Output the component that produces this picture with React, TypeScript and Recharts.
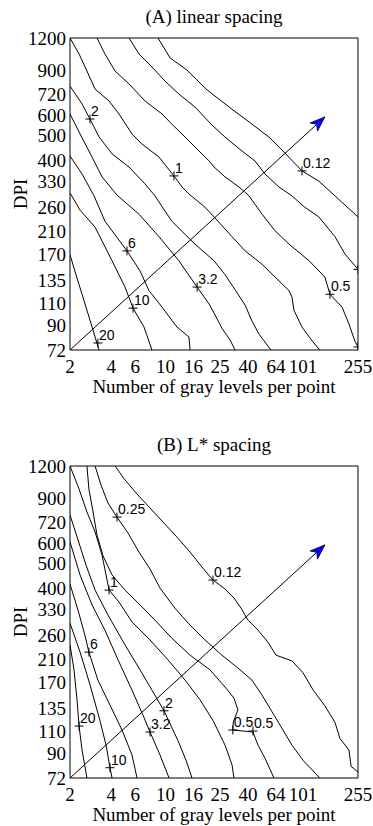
import React from "react";
import { ComposedChart, Scatter, XAxis, YAxis } from "recharts";

const grayTicks = [2, 4, 6, 10, 16, 25, 40, 64, 101, 255];
const dpiTicks = [72, 90, 110, 135, 170, 210, 260, 330, 400, 500, 600, 720, 900, 1200];
const grayDomain: [number, number] = [2, 255];
const dpiDomain: [number, number] = [72, 1200];

// (A) linear spacing — contour lines as [gray levels, dpi]
const linear20 = [[2, 170], [2.21, 142], [2.45, 119], [2.9, 88.6], [3.26, 72]];
const linear10 = [[2, 297], [2.37, 254], [3.05, 218], [4.06, 161], [5.05, 127], [5.78, 105], [6.95, 88.6], [7.95, 72]];
const linear6 = [[2, 414], [2.45, 352], [3.0, 289], [3.6, 230], [5.22, 176], [6.5, 147], [7.56, 123], [9.41, 106], [12.1, 88.6], [14.8, 81], [15.1, 72]];
const linear3_2 = [[2, 605], [2.37, 505], [2.9, 410], [3.43, 343], [4.41, 291], [6.39, 245], [8.95, 200], [12.5, 161], [17, 127], [20.8, 109], [23, 98.7], [25.8, 87.6], [29.6, 78.8], [32.2, 72]];
const linear2 = [[2, 778], [2.45, 662], [2.8, 578], [3.26, 492], [4.06, 422], [5.4, 375], [7.07, 322], [8.36, 289], [11.1, 230], [16.4, 187], [22.6, 161], [27.2, 142], [32.2, 124], [38.1, 108], [42.8, 93.5], [48.2, 83], [58.9, 72]];
const linear1 = [[2, 1200], [2.33, 1039], [2.66, 891], [3.05, 757], [3.86, 680], [4.56, 605], [5.68, 505], [6.72, 461], [8.95, 410], [11.5, 346], [13.2, 313], [14.8, 294], [19.4, 261], [22.6, 239], [30.6, 200], [38.1, 176], [50.7, 156], [63.1, 139], [79.8, 123], [83.9, 116], [86.8, 103], [99.3, 88.6], [118, 78.1], [134, 72]];
const linear05 = [[3.15, 1200], [3.6, 1039], [4.27, 891], [5.4, 793], [7.07, 680], [9.41, 605], [11.1, 552], [13.9, 491], [16.4, 449], [20.8, 396], [22.6, 375], [27.2, 343], [34.4, 313], [40.7, 289], [50.7, 245], [63.1, 211], [79.8, 187], [112, 161], [146, 139], [159, 119], [195, 106], [219, 91], [242, 78], [255, 74]];
const linear025 = [[5.4, 1200], [6.39, 1039], [7.95, 924], [9.9, 814], [12.5, 724], [16.4, 644], [21.8, 548], [27.2, 491], [36.2, 433], [45, 396], [53.3, 352], [67.4, 313], [83.9, 289], [104, 261], [132, 239], [173, 200], [205, 171], [255, 149]];
const linear012 = [[8.8, 1200], [10.8, 1002], [14.3, 899], [20.1, 751], [31.1, 627], [42.8, 552], [57, 491], [73.4, 429], [99.3, 362], [132, 330], [173, 289], [255, 239]];

const linearMarks = [
  { x: 3.2, y: 76.7, label: "20" },
  { x: 5.78, y: 105, label: "10" },
  { x: 5.22, y: 176, label: "6" },
  { x: 17, y: 127, label: "3.2" },
  { x: 2.8, y: 578, label: "2" },
  { x: 11.5, y: 346, label: "1" },
  { x: 159, y: 119, label: "0.5" },
  { x: 99.3, y: 362, label: "0.12" },
  { x: 255, y: 149, label: "" },
  { x: 255, y: 74, label: "" },
];

// (B) L* spacing
const lstar20 = [[2, 239], [2.14, 191], [2.25, 146], [2.33, 115], [2.45, 92.6], [2.66, 72]];
const lstar10 = [[2, 291], [2.37, 224], [2.8, 167], [3.31, 121], [3.67, 96.8], [3.92, 79], [4.06, 72]];
const lstar6 = [[2, 414], [2.29, 327], [2.57, 261], [2.75, 224], [3.2, 174], [3.92, 139], [4.8, 111], [5.68, 88.6], [6.18, 72]];
const lstar3_2 = [[2, 605], [2.37, 449], [2.9, 343], [3.6, 273], [4.49, 209], [5.68, 159], [6.83, 127], [7.69, 109], [9.1, 88.6], [10.6, 72]];
const lstar2 = [[2, 771], [2.29, 616], [2.62, 491], [3.05, 392], [3.79, 313], [5.05, 239], [6.5, 191], [7.95, 159], [9.73, 132], [12.3, 101], [14.1, 84.5], [15.6, 72]];
const lstar1 = [[2, 1200], [2.33, 975], [2.66, 793], [3.05, 662], [3.43, 538], [3.67, 449], [3.86, 392], [4.56, 352], [5.68, 294], [7.69, 250], [10.4, 209], [13.9, 174], [17.8, 146], [22.2, 121], [27.2, 96.8], [30.6, 81], [31.6, 72]];
const lstar05 = [[2.66, 1200], [2.75, 975], [2.95, 793], [3.15, 644], [3.49, 533], [4.06, 449], [5.05, 392], [6.5, 343], [8.36, 299], [11.1, 254], [15.1, 218], [21.1, 191], [27.6, 162], [31.6, 148], [33.8, 133], [31.2, 119], [31, 111], [43.5, 109], [47.4, 96.8], [53.3, 86], [62, 72]];
const lstar025 = [[3.05, 1200], [3.37, 1011], [3.79, 860], [4.41, 757], [5.31, 656], [6.39, 552], [7.69, 474], [9.1, 399], [11.7, 333], [14.8, 289], [19.4, 250], [25.8, 218], [33.8, 194], [42.8, 174], [50.7, 152], [59.9, 131], [72.1, 111], [83.9, 96.8], [101, 84.5], [134, 72]];
const lstar012 = [[4.27, 1200], [5.05, 1058], [6.18, 932], [7.69, 822], [9.57, 724], [12.1, 632], [15.1, 552], [18.4, 483], [22.2, 429], [26.7, 399], [31.6, 365], [35.6, 333], [40, 299], [47.4, 273], [56, 245], [64.1, 218], [83.9, 207], [101, 186], [120, 159], [146, 138], [173, 119], [188, 103], [219, 92.6], [227, 80], [255, 76]];

const lstarMarks = [
  { x: 4.41, y: 757, label: "0.25" },
  { x: 22.2, y: 429, label: "0.12" },
  { x: 3.86, y: 392, label: "1" },
  { x: 2.75, y: 224, label: "6" },
  { x: 9.73, y: 132, label: "2" },
  { x: 7.69, y: 109, label: "3.2" },
  { x: 2.33, y: 115, label: "20" },
  { x: 31, y: 111, label: "0.5" },
  { x: 43.5, y: 110, label: "0.5" },
  { x: 3.92, y: 79, label: "10" },
];

const arrowFrom = { x: 2, y: 72 };
const arrowTo = { x: 146, y: 589 };

const PLOT_W = 288;
const PLOT_H = 312;
// direction of the arrow on screen, from the log scales
const arrowAngle =
  (Math.atan2(
    -PLOT_H * Math.log(arrowTo.y / arrowFrom.y) / Math.log(dpiDomain[1] / dpiDomain[0]),
    PLOT_W * Math.log(arrowTo.x / arrowFrom.x) / Math.log(grayDomain[1] / grayDomain[0])
  ) * 180) / Math.PI;

const serif = "'Liberation Serif', 'Times New Roman', serif";
const sans = "'Liberation Sans', Arial, sans-serif";

const toPts = (a: number[][]) => a.map(([x, y]) => ({ x, y }));

function Plus(props: any) {
  const { cx, cy, payload } = props;
  return (
    <g>
      <line x1={cx - 4.5} y1={cy} x2={cx + 4.5} y2={cy} stroke="#000" strokeWidth={1} />
      <line x1={cx} y1={cy - 4.5} x2={cx} y2={cy + 4.5} stroke="#000" strokeWidth={1} />
      {payload && payload.label ? (
        <text x={cx + 1} y={cy - 3} fontSize={14} fontFamily={sans} fill="#000">
          {payload.label}
        </text>
      ) : null}
    </g>
  );
}

function Head(props: any) {
  const { cx, cy, payload } = props;
  if (!payload || payload.x !== arrowTo.x) return <g />;
  return (
    <polygon
      points="0,0 -15,-5.5 -11,0 -15,5.5"
      transform={`translate(${cx},${cy}) rotate(${arrowAngle})`}
      fill="#0000ff"
      stroke="#00003a"
      strokeWidth={0.8}
    />
  );
}

const tickAxis = { stroke: "#000" };

function Panel({ title, top, curves, marks }: { title: string; top: number; curves: number[][][]; marks: { x: number; y: number; label: string }[] }) {
  return (
    <div style={{ position: "absolute", left: 0, top, width: 373, height: 398 }}>
      <div
        style={{
          position: "absolute",
          left: 70,
          top: 7,
          width: 288,
          textAlign: "center",
          fontFamily: serif,
          fontSize: 19,
          lineHeight: "19px",
          whiteSpace: "nowrap",
        }}
      >
        {title}
      </div>
      <ComposedChart width={373} height={398} margin={{ top: 38, right: 15, bottom: 0, left: 0 }}>
        <XAxis
          dataKey="x"
          type="number"
          scale="log"
          domain={grayDomain}
          allowDataOverflow
          ticks={grayTicks}
          interval={0}
          tickLine={false}
          axisLine={false}
          tickSize={0}
          tickMargin={10}
          height={48}
          tick={{ fontSize: 19, fill: "#000", fontFamily: serif }}
          label={{
            value: "Number of gray levels per point",
            position: "insideBottom",
            offset: 5,
            style: { fontSize: 19, fill: "#000", fontFamily: serif },
          }}
        />
        <YAxis
          dataKey="y"
          type="number"
          scale="log"
          domain={dpiDomain}
          allowDataOverflow
          ticks={dpiTicks}
          interval={0}
          tickLine={false}
          axisLine={false}
          tickSize={0}
          tickMargin={4}
          width={70}
          tick={{ fontSize: 19, fill: "#000", fontFamily: serif }}
          label={{
            value: "DPI",
            angle: -90,
            position: "insideLeft",
            offset: 20,
            style: { fontSize: 19, fill: "#000", fontFamily: serif, textAnchor: "middle" },
          }}
        />
        <XAxis xAxisId="b" orientation="bottom" mirror type="number" scale="log" domain={grayDomain} allowDataOverflow ticks={grayTicks} interval={0} tick={false} tickSize={5} tickLine={tickAxis} axisLine={tickAxis} height={1} />
        <XAxis xAxisId="t" orientation="top" mirror type="number" scale="log" domain={grayDomain} allowDataOverflow ticks={grayTicks} interval={0} tick={false} tickSize={5} tickLine={tickAxis} axisLine={tickAxis} height={1} />
        <YAxis yAxisId="l" orientation="left" mirror type="number" scale="log" domain={dpiDomain} allowDataOverflow ticks={dpiTicks} interval={0} tick={false} tickSize={5} tickLine={tickAxis} axisLine={tickAxis} width={1} />
        <YAxis yAxisId="r" orientation="right" mirror type="number" scale="log" domain={dpiDomain} allowDataOverflow ticks={dpiTicks} interval={0} tick={false} tickSize={5} tickLine={tickAxis} axisLine={tickAxis} width={1} />
        {curves.map((c, i) => (
          <Scatter
            key={i}
            data={toPts(c)}
            line={{ stroke: "#000", strokeWidth: 1 }}
            lineType="joint"
            fill="none"
            shape={() => <g />}
            isAnimationActive={false}
          />
        ))}
        <Scatter
          data={[arrowFrom, arrowTo]}
          line={{ stroke: "#000", strokeWidth: 1 }}
          lineType="joint"
          fill="none"
          shape={Head}
          isAnimationActive={false}
        />
        <Scatter data={marks} fill="none" shape={Plus} isAnimationActive={false} />
      </ComposedChart>
    </div>
  );
}

export default function App() {
  return (
    <div style={{ position: "absolute", left: 0, top: 0, width: 373, height: 826, overflow: "hidden", background: "#fff" }}>
      <Panel
        title="(A) linear spacing"
        top={0}
        curves={[linear20, linear10, linear6, linear3_2, linear2, linear1, linear05, linear025, linear012]}
        marks={linearMarks}
      />
      <Panel
        title="(B) L* spacing"
        top={428}
        curves={[lstar20, lstar10, lstar6, lstar3_2, lstar2, lstar1, lstar05, lstar025, lstar012]}
        marks={lstarMarks}
      />
    </div>
  );
}
